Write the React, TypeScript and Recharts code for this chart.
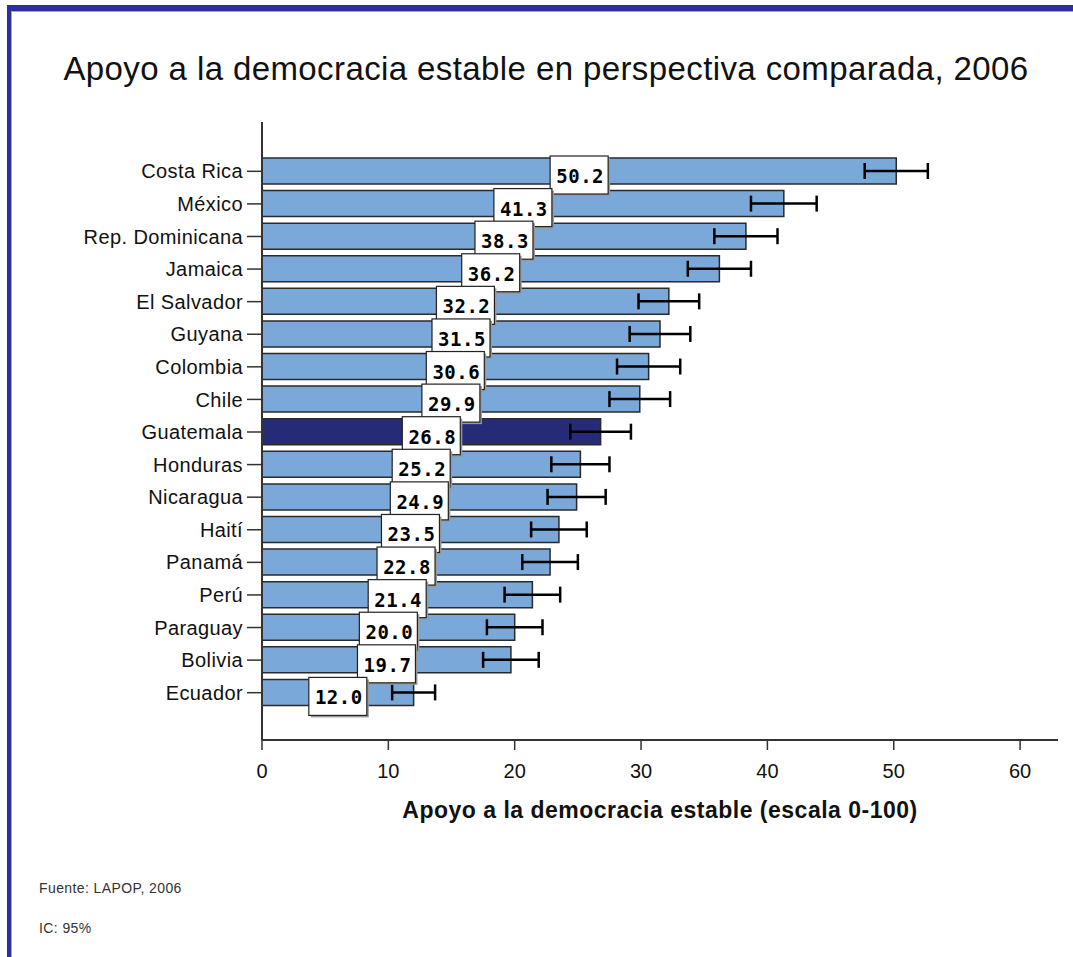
import { BarChart, Bar, XAxis, YAxis, ErrorBar, LabelList, Cell } from "recharts";

const countries = [
  "Costa Rica",
  "México",
  "Rep. Dominicana",
  "Jamaica",
  "El Salvador",
  "Guyana",
  "Colombia",
  "Chile",
  "Guatemala",
  "Honduras",
  "Nicaragua",
  "Haití",
  "Panamá",
  "Perú",
  "Paraguay",
  "Bolivia",
  "Ecuador",
];
const support = [50.2, 41.3, 38.3, 36.2, 32.2, 31.5, 30.6, 29.9, 26.8, 25.2, 24.9, 23.5, 22.8, 21.4, 20.0, 19.7, 12.0];
// half-width of the 95% confidence interval
const ci95 = [2.5, 2.6, 2.5, 2.5, 2.4, 2.4, 2.5, 2.4, 2.4, 2.3, 2.3, 2.2, 2.2, 2.2, 2.2, 2.2, 1.7];
const highlighted = "Guatemala";
const xTicks = [0, 10, 20, 30, 40, 50, 60];

const data = countries.map((country, i) => ({ country, value: support[i], err: ci95[i] }));

const BLUE = "#7aa8d8";
const NAVY = "#262b78";
const FRAME = "#2f2f9c";
const FONT = "'Liberation Sans', Arial, sans-serif";

function ValueBox(props: any) {
  const { x, y, width, height, value } = props;
  const cx = Number(x) + Number(width) / 2;
  const cy = Number(y) + Number(height) / 2 + 4;
  const w = 58;
  const h = 38;
  return (
    <g>
      <rect x={cx - w / 2 + 2} y={cy - h / 2 + 2} width={w} height={h} fill="#999" />
      <rect x={cx - w / 2} y={cy - h / 2} width={w} height={h} fill="#fff" stroke="#222" strokeWidth={1.2} />
      <text
        x={cx + 1}
        y={cy + 1}
        textAnchor="middle"
        dominantBaseline="central"
        fontFamily="'DejaVu Sans Mono', monospace"
        fontWeight="bold"
        fontSize={19}
        letterSpacing={0.5}
        fill="#000"
      >
        {Number(value).toFixed(1)}
      </text>
    </g>
  );
}

export default function App() {
  return (
    <div
      style={{
        position: "absolute",
        left: 0,
        top: 0,
        width: 1073,
        height: 957,
        background: "#fff",
        overflow: "hidden",
        fontFamily: FONT,
      }}
    >
      {/* blue frame, top and left */}
      <div style={{ position: "absolute", left: 7, top: 5, width: 1080, height: 970, borderTop: `6px solid ${FRAME}`, borderLeft: `4px solid ${FRAME}` }} />
      <div style={{ position: "absolute", left: 11, top: 11, width: 1080, height: 970, borderTop: "1px solid #aaa", borderLeft: "1px solid #aaa" }} />

      <div style={{ position: "absolute", left: 0, width: 1092, top: 50, textAlign: "center", fontSize: 33, letterSpacing: 0.4, color: "#111", whiteSpace: "nowrap" }}>
        Apoyo a la democracia estable en perspectiva comparada, 2006
      </div>

      <div style={{ position: "absolute", left: 0, top: 0 }}>
        <BarChart
          width={1073}
          height={957}
          data={data}
          layout="vertical"
          margin={{ top: 122, right: 15, bottom: 157, left: 0 }}
        >
          <XAxis
            type="number"
            domain={[0, 63]}
            ticks={xTicks}
            height={60}
            tickSize={10}
            tickMargin={14}
            axisLine={{ stroke: "#333", strokeWidth: 2 }}
            tickLine={{ stroke: "#333", strokeWidth: 1.5 }}
            tick={{ fontSize: 20, fill: "#111", fontFamily: FONT }}
          />
          <YAxis
            type="category"
            dataKey="country"
            width={262}
            tickSize={15}
            tickMargin={4}
            padding={{ top: 33, bottom: 31 }}
            axisLine={{ stroke: "#333", strokeWidth: 2 }}
            tickLine={{ stroke: "#333", strokeWidth: 1.5 }}
            tick={{ fontSize: 20, letterSpacing: 0.4, fill: "#111", fontFamily: FONT }}
            interval={0}
          />
          <Bar dataKey="value" barSize={26} stroke="#2a2a2a" strokeWidth={1.5} isAnimationActive={false}>
            {data.map((d) => (
              <Cell key={d.country} fill={d.country === highlighted ? NAVY : BLUE} />
            ))}
            <ErrorBar dataKey="err" direction="x" width={8} stroke="#000" strokeWidth={2.5} />
            <LabelList dataKey="value" content={ValueBox} />
          </Bar>
        </BarChart>
      </div>

      <div style={{ position: "absolute", left: 262, width: 796, top: 797, textAlign: "center", fontSize: 23, letterSpacing: 0.5, fontWeight: "bold", color: "#111", whiteSpace: "nowrap" }}>
        Apoyo a la democracia estable (escala 0-100)
      </div>

      <div style={{ position: "absolute", left: 39, top: 880, fontSize: 14, letterSpacing: 0.4, color: "#333" }}>Fuente: LAPOP, 2006</div>
      <div style={{ position: "absolute", left: 39, top: 920, fontSize: 14, letterSpacing: 0.4, color: "#333" }}>IC: 95%</div>
    </div>
  );
}
